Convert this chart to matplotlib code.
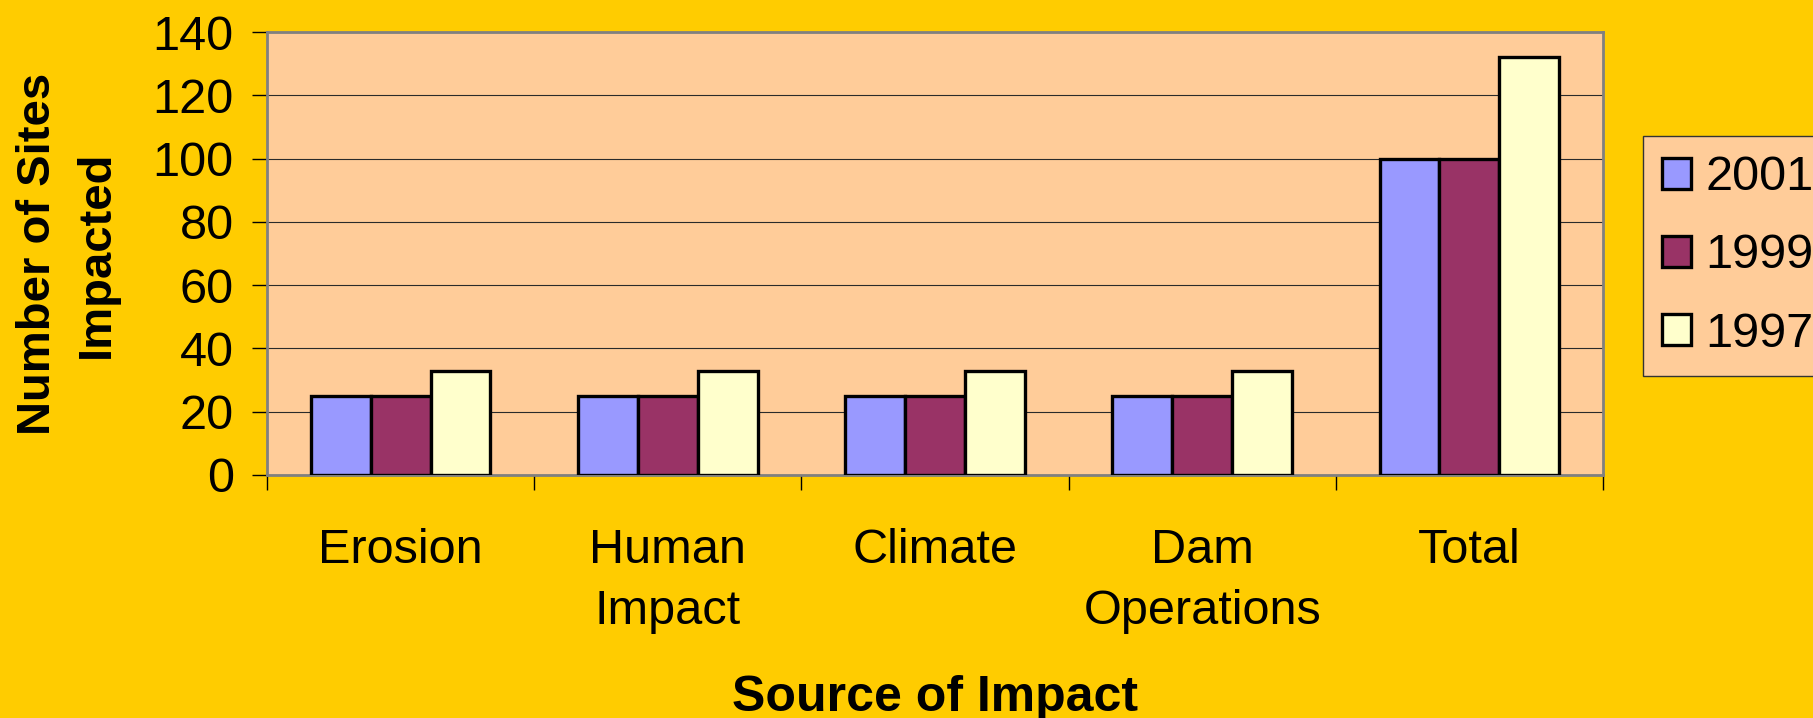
import matplotlib
matplotlib.use("Agg")
import matplotlib.pyplot as plt
import numpy as np

categories = ["Erosion", "Human\nImpact", "Climate", "Dam\nOperations", "Total"]
series_names = ["2001", "1999", "1997"]
values_2001 = [25, 25, 25, 25, 100]
values_1999 = [25, 25, 25, 25, 100]
values_1997 = [33, 33, 33, 33, 132]
colors = ["#9999FF", "#993366", "#FFFFCC"]
yticks = [0, 20, 40, 60, 80, 100, 120, 140]

plt.rcParams['font.family'] = ['Liberation Sans', 'DejaVu Sans']

W, H = 1813, 718
fig = plt.figure(figsize=(W / 100, H / 100), dpi=100, facecolor="#FFCC00")
ax = fig.add_axes([267 / W, 1 - 475 / H, (1603 - 267) / W, (475 - 32) / H])
ax.set_facecolor("#FFCC99")

x = np.arange(len(categories))
bw = 0.224
series = [values_2001, values_1999, values_1997]
for i, (vals, name, c) in enumerate(zip(series, series_names, colors)):
    ax.bar(x + (i - 1) * bw, vals, width=bw, color=c, edgecolor="black",
           linewidth=2.4, label=name, zorder=3)

ax.set_xlim(-0.5, len(categories) - 0.5)
ax.set_ylim(0, 140)
ax.set_yticks(yticks)
ax.set_yticklabels([str(v) for v in yticks], fontsize=35)
ax.yaxis.grid(True, color="#2a2a2a", linewidth=0.8, zorder=0)
ax.set_axisbelow(True)

# x ticks at category boundaries, labels at centers
ax.set_xticks(np.arange(len(categories) + 1) - 0.5)
ax.set_xticklabels([""] * (len(categories) + 1))
ax.set_xticks(x, minor=True)
ax.set_xticklabels(categories, minor=True, fontsize=35, linespacing=1.45)
ax.tick_params(axis="x", which="minor", length=0, pad=38)
ax.tick_params(axis="x", which="major", length=11, width=1, color="black", direction="out")
ax.tick_params(axis="y", length=11, width=1, color="black", direction="out", pad=13)

for s in ax.spines.values():
    s.set_color("#808080")
    s.set_linewidth(2)

fig.text(935 / W, 1 - 698 / H, "Source of Impact", ha="center", va="center",
         fontsize=36, fontweight="bold")
fig.text(67 / W, 1 - 254 / H, "Number of Sites\nImpacted", ha="center", va="center",
         rotation=90, fontsize=34, fontweight="bold", linespacing=1.44)

leg = fig.legend(loc="upper left", bbox_to_anchor=(1643 / W, 1 - 136 / H),
                 fontsize=35, frameon=True, fancybox=False,
                 handlelength=0.58, handleheight=0.6, handletextpad=0.3,
                 labelspacing=0.68, borderpad=0.4, borderaxespad=0)
leg.get_frame().set_facecolor("#FFCC99")
leg.get_frame().set_edgecolor("#333333")
leg.get_frame().set_linewidth(1)
leg.get_frame().set_alpha(1)

fig.savefig("out.png", dpi=100, facecolor=fig.get_facecolor())
